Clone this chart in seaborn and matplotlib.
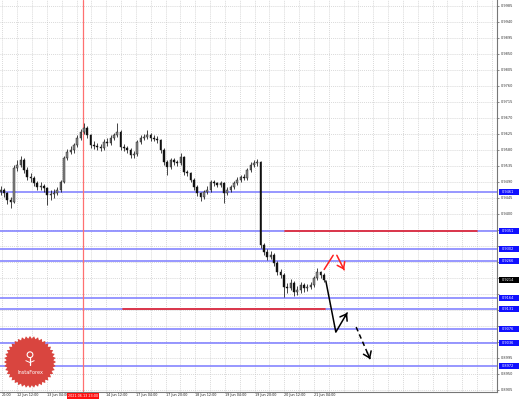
import matplotlib
matplotlib.use("Agg")
import matplotlib.pyplot as plt
import numpy as np
import pandas as pd
import seaborn as sns
from matplotlib.patches import Polygon, Rectangle, Circle
from matplotlib.ticker import MultipleLocator
from matplotlib.transforms import blended_transform_factory

# candles, oldest first, one slot each
first_open = 0.9460
closes = [
    0.9467, 0.9458, 0.9439, 0.9433, 0.9529, 0.9537, 0.9551, 0.9523, 0.9503, 0.9500,
    0.9486, 0.9475, 0.9478, 0.9472, 0.9453, 0.9455, 0.9458, 0.9467, 0.9489, 0.9557,
    0.9574, 0.9579, 0.9593, 0.9613, 0.9630, 0.9641, 0.9621, 0.9593, 0.9590, 0.9588,
    0.9585, 0.9602, 0.9599, 0.9613, 0.9621, 0.9630, 0.9588, 0.9585, 0.9579, 0.9565,
    0.9567, 0.9602, 0.9613, 0.9616, 0.9621, 0.9613, 0.9611, 0.9607, 0.9579, 0.9545,
    0.9531, 0.9551, 0.9545, 0.9543, 0.9559, 0.9517, 0.9514, 0.9495, 0.9475, 0.9458,
    0.9447, 0.9461, 0.9467, 0.9489, 0.9486, 0.9481, 0.9486, 0.9458, 0.9467, 0.9475,
    0.9486, 0.9495, 0.9503, 0.9500, 0.9523, 0.9537, 0.9543, 0.9545, 0.9312, 0.9292,
    0.9278, 0.9284, 0.9261, 0.9236, 0.9228, 0.9194, 0.9191, 0.9205, 0.9180, 0.9185,
    0.9199, 0.9191, 0.9194, 0.9199, 0.9219, 0.9236, 0.9228, 0.9214,
]
highs = [
    0.9478, 0.9472, 0.9462, 0.9448, 0.9536, 0.9552, 0.9562, 0.9556, 0.9530, 0.9514,
    0.9505, 0.9492, 0.9488, 0.9484, 0.9476, 0.9466, 0.9470, 0.9476, 0.9495, 0.9562,
    0.9582, 0.9590, 0.9600, 0.9620, 0.9638, 0.9655, 0.9648, 0.9625, 0.9604, 0.9598,
    0.9596, 0.9610, 0.9612, 0.9620, 0.9628, 0.9655, 0.9634, 0.9596, 0.9590, 0.9584,
    0.9575, 0.9608, 0.9620, 0.9624, 0.9635, 0.9626, 0.9620, 0.9618, 0.9610, 0.9584,
    0.9550, 0.9558, 0.9556, 0.9552, 0.9571, 0.9562, 0.9524, 0.9518, 0.9500, 0.9480,
    0.9462, 0.9468, 0.9478, 0.9496, 0.9495, 0.9490, 0.9492, 0.9490, 0.9474, 0.9482,
    0.9492, 0.9502, 0.9510, 0.9512, 0.9528, 0.9544, 0.9552, 0.9554, 0.9548, 0.9318,
    0.9300, 0.9296, 0.9290, 0.9266, 0.9244, 0.9232, 0.9206, 0.9216, 0.9210, 0.9196,
    0.9208, 0.9204, 0.9202, 0.9208, 0.9226, 0.9247, 0.9240, 0.9232,
]
lows = [
    0.9452, 0.9447, 0.9428, 0.9416, 0.9430, 0.9520, 0.9530, 0.9515, 0.9495, 0.9490,
    0.9478, 0.9466, 0.9468, 0.9462, 0.9424, 0.9438, 0.9445, 0.9452, 0.9462, 0.9485,
    0.9550, 0.9568, 0.9572, 0.9588, 0.9608, 0.9625, 0.9612, 0.9585, 0.9582, 0.9578,
    0.9575, 0.9580, 0.9590, 0.9594, 0.9606, 0.9615, 0.9580, 0.9576, 0.9570, 0.9558,
    0.9556, 0.9562, 0.9596, 0.9606, 0.9610, 0.9605, 0.9604, 0.9598, 0.9572, 0.9538,
    0.9509, 0.9526, 0.9536, 0.9534, 0.9538, 0.9510, 0.9505, 0.9488, 0.9468, 0.9450,
    0.9436, 0.9442, 0.9455, 0.9462, 0.9478, 0.9474, 0.9476, 0.9430, 0.9452, 0.9462,
    0.9470, 0.9480, 0.9490, 0.9494, 0.9496, 0.9518, 0.9532, 0.9534, 0.9304, 0.9284,
    0.9270, 0.9272, 0.9252, 0.9228, 0.9218, 0.9166, 0.9176, 0.9184, 0.9169, 0.9172,
    0.9178, 0.9180, 0.9182, 0.9188, 0.9194, 0.9214, 0.9220, 0.9208,
]

price_ticks = [
    0.9985, 0.9940, 0.9895, 0.9850, 0.9805, 0.9760, 0.9715, 0.9670, 0.9625,
    0.9580, 0.9535, 0.9490, 0.9445, 0.9400, 0.9355, 0.9310, 0.9265, 0.9220,
    0.9175, 0.9130, 0.9085, 0.9040, 0.8995, 0.8950, 0.8905,
]
time_ticks = [0.45, 5.0, 13.9, 31.7, 40.6, 49.5, 58.4, 67.3, 76.2, 85.1, 94.0]
time_labels = [
    "20:00", "12 Jun 12:00", "13 Jun 04:00", "14 Jun 12:00",
    "17 Jun 04:00", "17 Jun 20:00", "18 Jun 12:00", "19 Jun 04:00",
    "19 Jun 20:00", "20 Jun 12:00", "21 Jun 04:00",
]
marker_slot = 24.75
marker_label = "2021.06.13 23:00"

blue_levels = [0.9461, 0.9351, 0.9302, 0.9266, 0.9164, 0.9131, 0.9076, 0.9036, 0.8972]
red_levels = [0.9351, 0.9131]
red_starts = [85.4, 36.8]
red_ends = [143.0, 97.4]

# forecast arrows (slot, price)
black_path_x = [97.6, 100.6, 104.0]
black_path_y = [0.9211, 0.9067, 0.9121]
black_dash_x = [106.7, 110.9]
black_dash_y = [0.9081, 0.8991]
red_up_x = [97.1, 99.8]
red_up_y = [0.9243, 0.9283]
red_down_x = [100.9, 103.1]
red_down_y = [0.9283, 0.9242]

sns.set_theme(style="white")
plt.rcParams["font.family"] = ["DejaVu Sans"]

df = pd.DataFrame({"close": closes, "high": highs, "low": lows})
df["open"] = [first_open] + closes[:-1]
df["slot"] = np.arange(len(df))
df["bull"] = df["close"] >= df["open"]

fig = plt.figure(figsize=(5.19, 4.0), dpi=100)
ax = fig.add_axes([0, 8 / 400, 497 / 519, 392 / 400])
ax.set_facecolor("white")
ax.set_xlim(-0.15, 148.95)
ax.set_ylim(0.88985, 1.0001)

boxed = blue_levels + [closes[-1]]

# grid
grid_kw = dict(color="#c4c4c4", lw=0.5, linestyle=(0, (1.2, 1.6)))
ax.xaxis.set_major_locator(MultipleLocator(4.45, offset=0.55))
tick_text = [f"{p:.4f}" if min(abs(p - b) for b in boxed) > 0.0013 else "" for p in price_ticks]
ax.set_yticks(price_ticks, tick_text)
ax.grid(True, axis="both", **grid_kw)
ax.set_axisbelow(True)
ax.tick_params(axis="x", length=0, labelbottom=False)
ax.yaxis.tick_right()
ax.tick_params(axis="y", labelsize=2.5, pad=1.2, length=1.5, width=0.4,
               colors="#333333", direction="out")

for side in ["top", "left"]:
    ax.spines[side].set_visible(False)
for side in ["right", "bottom"]:
    ax.spines[side].set_color("#777777")
    ax.spines[side].set_linewidth(0.8)

# levels
for lv in blue_levels:
    ax.axhline(lv, color="#8585ff", lw=1.2, zorder=2)
for lv, s0, s1 in zip(red_levels, red_starts, red_ends):
    ax.plot([s0, s1], [lv, lv], color="#e8262b", lw=1.2, zorder=3)
ax.axvline(marker_slot, color="#ff7070", lw=0.9, zorder=2)

# candles
ax.vlines(df["slot"], df["low"], df["high"], color="#111111", lw=0.55, zorder=4)
body_lo = df[["open", "close"]].min(axis=1)
body_h = (df["open"] - df["close"]).abs().clip(lower=0.00018)
colors = np.where(df["bull"], "#8a8a8a", "#111111")
ax.bar(df["slot"], body_h, bottom=body_lo, width=0.55, color=colors,
       edgecolor="#111111", linewidth=0.3, zorder=5)


# forecast arrows: line in its own style, short solid piece at the tip for the head
def arrow(xs, ys, color, ls="-"):
    ax.plot(xs, ys, color=color, lw=1.1, ls=ls, zorder=6)
    tail_x = xs[-1] - 0.2 * (xs[-1] - xs[-2])
    tail_y = ys[-1] - 0.2 * (ys[-1] - ys[-2])
    ax.annotate("", xy=(xs[-1], ys[-1]), xytext=(tail_x, tail_y),
                arrowprops=dict(arrowstyle="->,head_length=0.35,head_width=0.25",
                                color=color, lw=1.1, shrinkA=0, shrinkB=0), zorder=6)


arrow(black_path_x, black_path_y, "black")
arrow(black_dash_x, black_dash_y, "black", ls=(0, (3, 2.2)))
ax.plot(red_up_x, red_up_y, color="#ff2020", lw=1.1, zorder=6)
arrow(red_down_x, red_down_y, "#ff2020")

# price labels on the right
blend_y = blended_transform_factory(ax.transAxes, ax.transData)


def price_box(price, face):
    ax.add_patch(Rectangle((1.004, price - 0.00085), 0.05, 0.0017, transform=blend_y,
                           facecolor=face, edgecolor="none", clip_on=False, zorder=8))
    ax.text(1.01, price, f"{price:.4f}", transform=blend_y, fontsize=2.5, color="white",
            ha="left", va="center", clip_on=False, zorder=9)


for lv in blue_levels:
    price_box(lv, "#1010ff")
price_box(closes[-1], "black")

# time labels
blend_x = blended_transform_factory(ax.transData, ax.transAxes)
for t, lab in zip(time_ticks, time_labels):
    ax.text(t, -0.0085, lab, transform=blend_x, fontsize=2.4, color="#222222",
            ha="left", va="center", clip_on=False)
ax.text(marker_slot, -0.0095, marker_label, transform=blend_x, fontsize=2.4, color="white",
        ha="center", va="center", clip_on=False, zorder=9,
        bbox=dict(boxstyle="square,pad=0.35", fc="#ff1010", ec="none"))

# InstaForex badge
lax = fig.add_axes([4 / 519, 12 / 400, 52 / 519, 52 / 400])
lax.set_xlim(-1, 1)
lax.set_ylim(-1, 1)
lax.axis("off")
n = 40
ang = np.linspace(0, 2 * np.pi, 2 * n, endpoint=False)
rad = np.where(np.arange(2 * n) % 2 == 0, 1.0, 0.9)
lax.add_patch(Polygon(np.c_[rad * np.cos(ang), rad * np.sin(ang)], closed=True,
                      fc="#d9453f", ec="none"))
lax.add_patch(Circle((0, 0.28), 0.11, fc="none", ec="white", lw=0.8))
lax.plot([0, 0], [0.17, -0.12], color="white", lw=0.9)
lax.plot([-0.16, 0, 0.16], [0.05, -0.02, 0.05], color="white", lw=0.7)
lax.text(0, -0.42, "InstaForex", color="white", fontsize=3.6, ha="center", va="center")

fig.savefig("out.png", dpi=100)
